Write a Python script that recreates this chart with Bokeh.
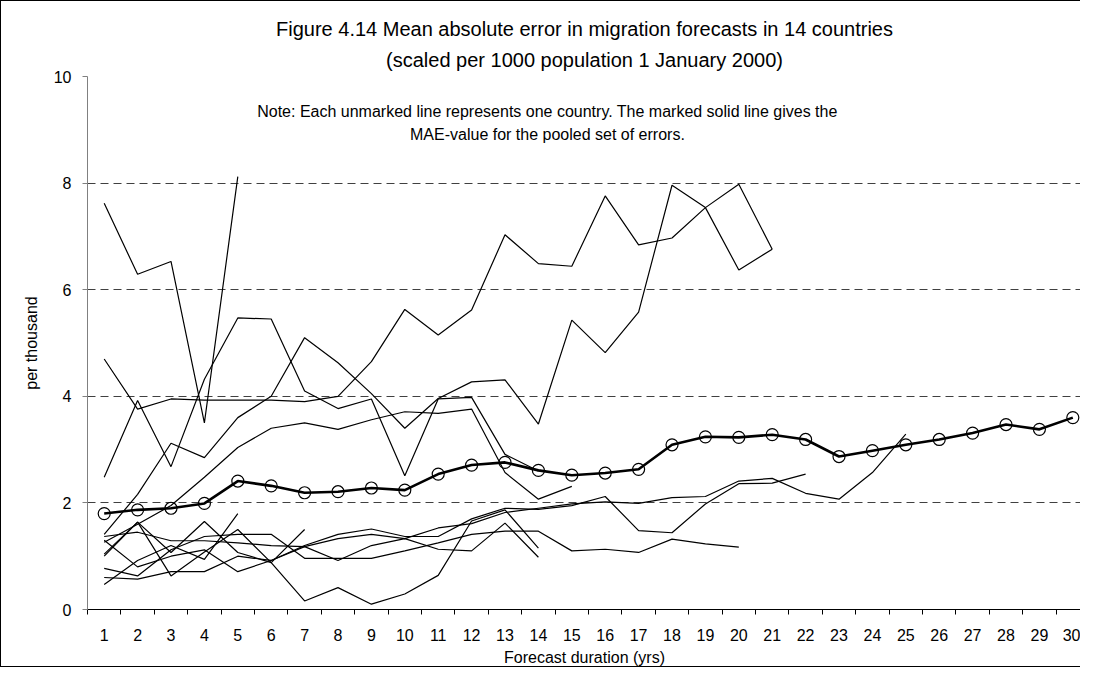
from bokeh.plotting import figure
from bokeh.models import Range1d, FixedTicker, Label, Title
from bokeh.embed import file_html
from bokeh.resources import INLINE

years = list(range(1, 31))
year_ticks = [str(y) for y in years]
y_ticks = [0, 2, 4, 6, 8, 10]

# pooled MAE (marked line)
mae = [1.8, 1.87, 1.9, 1.99, 2.41, 2.32, 2.19, 2.21, 2.28, 2.24, 2.54, 2.71, 2.76, 2.61,
       2.52, 2.56, 2.63, 3.09, 3.24, 3.23, 3.28, 3.19, 2.87, 2.98, 3.09, 3.19, 3.31, 3.47, 3.38, 3.6]

# individual countries (unmarked lines), values from forecast year 1 onward
c01 = [7.62, 6.29, 6.53, 3.5, 8.12]
c02 = [4.7, 3.76, 3.95, 3.93, 3.93, 3.93, 3.9, 4.0, 4.65, 5.63, 5.15, 5.62, 7.03, 6.49, 6.44,
       7.76, 6.84, 6.97, 7.54, 7.98, 6.76]
c03 = [2.48, 3.92, 2.68, 4.32, 5.47, 5.45, 4.1, 3.77, 3.95, 2.51, 3.95, 3.98, 2.91, 2.6]
c04 = [1.41, 2.16, 3.12, 2.85, 3.6, 4.0, 5.1, 4.63, 4.05, 3.4, 3.96, 4.27, 4.31, 3.48, 5.43,
       4.82, 5.58, 7.96, 7.54, 6.37, 6.76]
c05 = [1.26, 1.6, 1.95, 2.48, 3.04, 3.4, 3.5, 3.38, 3.56, 3.71, 3.68, 3.76, 2.57, 2.07, 2.31]
c06 = [0.47, 0.92, 1.2, 0.94, 1.8]
c07 = [1.0, 1.64, 1.07, 1.65, 1.07, 0.88, 1.5]
c08 = [1.04, 1.64, 0.63, 1.08, 1.5, 0.88, 0.16, 0.41, 0.1, 0.29, 0.64, 1.66, 1.87, 1.15]
c09 = [1.3, 0.8, 1.0, 1.12, 0.71, 0.92, 1.18, 0.92, 1.2, 1.33, 1.13, 1.1, 1.62, 0.98]
c10 = [0.77, 0.63, 1.12, 1.37, 1.41, 1.41, 0.96, 0.96, 0.96, 1.1, 1.25, 1.41, 1.47, 1.47,
       1.1, 1.13, 1.07, 1.32, 1.23, 1.17]
c11 = [0.6, 0.57, 0.71, 0.71, 1.0, 0.92, 1.2, 1.41, 1.51, 1.37, 1.37, 1.7, 1.9, 1.88, 1.95,
       2.12, 1.48, 1.44, 1.98, 2.36, 2.37, 2.54]
c12 = [1.37, 1.45, 1.29, 1.29, 1.25, 1.2, 1.18, 1.33, 1.41, 1.33, 1.53, 1.61, 1.82, 1.9, 1.98,
       2.02, 1.99, 2.1, 2.12, 2.41, 2.46, 2.18, 2.07, 2.57, 3.29]
countries = [c01, c02, c03, c04, c05, c06, c07, c08, c09, c10, c11, c12]

title1 = "Figure 4.14 Mean absolute error in migration forecasts in 14 countries"
title2 = "(scaled per 1000 population 1 January 2000)"
note1 = "Note: Each unmarked line represents one country. The marked solid line gives the"
note2 = "MAE-value for the pooled set of errors."

FONT = "Liberation Sans"

p = figure(width=1080, height=667, output_backend="svg", toolbar_location=None, title=None,
           x_range=Range1d(0.5, 30.26), y_range=Range1d(0, 10),
           min_border_left=86, min_border_right=0, min_border_top=75, min_border_bottom=58)
p.outline_line_color = None
p.background_fill_color = "white"
p.border_fill_color = "white"
p.styles = {"border-top": "1px solid black", "border-left": "1px solid black",
            "border-bottom": "1px solid black"}

# titles (first added sits closest to the plot)
p.add_layout(Title(text=title2, align="center", text_font=FONT, text_font_size="20px",
                   text_font_style="normal", text_color="black", standoff=12), "above")
p.add_layout(Title(text=title1, align="center", text_font=FONT, text_font_size="20px",
                   text_font_style="normal", text_color="black", standoff=2), "above")

# axes
p.xaxis.ticker = FixedTicker(ticks=years, minor_ticks=[y - 0.5 for y in years] + [30.5])
p.xaxis.major_label_overrides = {y: s for y, s in zip(years, year_ticks)}
p.xaxis.major_tick_line_color = None
p.xaxis.major_tick_out = 0
p.xaxis.major_tick_in = 0
p.xaxis.minor_tick_out = 5
p.xaxis.minor_tick_in = 0
p.xaxis.minor_tick_line_color = "black"
p.xaxis.axis_line_color = "black"
p.xaxis.major_label_text_font = FONT
p.xaxis.major_label_text_font_size = "16px"
p.xaxis.major_label_text_color = "black"
p.xaxis.major_label_standoff = 14
p.xaxis.axis_label = "Forecast duration (yrs)"
p.xaxis.axis_label_text_font = FONT
p.xaxis.axis_label_text_font_size = "16px"
p.xaxis.axis_label_text_font_style = "normal"
p.xaxis.axis_label_text_color = "black"
p.xaxis.axis_label_standoff = 5

p.yaxis.ticker = FixedTicker(ticks=y_ticks, minor_ticks=[])
p.yaxis.major_tick_out = 5
p.yaxis.major_tick_in = 0
p.yaxis.major_tick_line_color = "#808080"
p.yaxis.axis_line_color = "#808080"
p.yaxis.major_label_text_font = FONT
p.yaxis.major_label_text_font_size = "16px"
p.yaxis.major_label_text_color = "black"
p.yaxis.major_label_standoff = 11
p.yaxis.axis_label = "per thousand"
p.yaxis.axis_label_text_font = FONT
p.yaxis.axis_label_text_font_size = "16px"
p.yaxis.axis_label_text_font_style = "normal"
p.yaxis.axis_label_text_color = "black"
p.yaxis.axis_label_standoff = 11

p.xgrid.grid_line_color = None
p.ygrid.grid_line_color = "#404040"
p.ygrid.grid_line_dash = "8 5"
p.ygrid.grid_line_width = 1

for c in countries:
    p.line(years[:len(c)], c, line_color="black", line_width=1.2)

p.line(years, mae, line_color="black", line_width=2.6)
p.scatter(years, mae, marker="circle", size=12, fill_color=None, line_color="black", line_width=1.2)

for txt, yv in [(note1, 9.343), (note2, 8.91)]:
    p.add_layout(Label(x=14.27, y=yv, text=txt, text_align="center", text_baseline="middle",
                       text_font=FONT, text_font_size="16px", text_color="black"))

open("out.html", "w").write(file_html(p, INLINE))
